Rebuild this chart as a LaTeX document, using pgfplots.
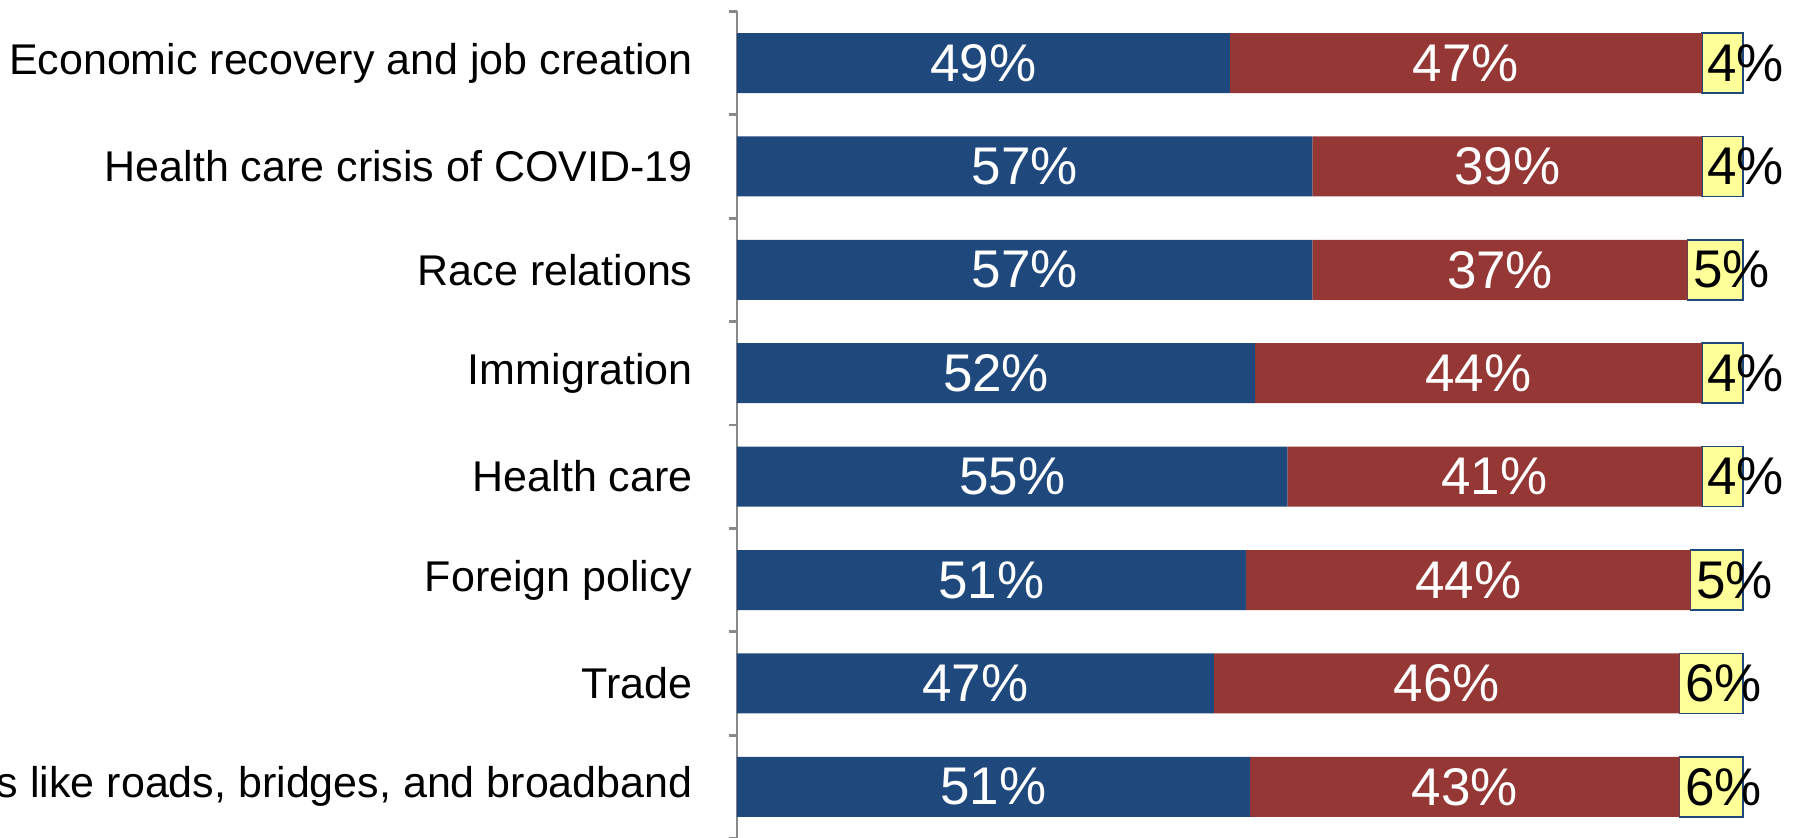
\documentclass[border=0pt]{standalone}
\usepackage{pgfplots}
\usepackage{pgfplotstable}
\pgfplotsset{compat=1.18}
\usepackage{fontspec}
\setmainfont{Liberation Sans}
\definecolor{cblue}{HTML}{1F497D}
\definecolor{cred}{HTML}{953735}
\definecolor{cyel}{HTML}{FFFF99}
\definecolor{cgray}{HTML}{898989}
\newcommand\valfont{\fontsize{26.5}{30}\selectfont}
\newcommand\catfont{\fontsize{21.5}{24}\selectfont}
\pgfplotstableread{
idx blue red yel lb lr ly
0 49.0 46.9 4.1 49 47 4
1 57.2 38.7 4.1 57 39 4
2 57.2 37.3 5.5 57 37 5
3 51.5 44.4 4.1 52 44 4
4 54.7 41.2 4.1 55 41 4
5 50.6 44.2 5.2 51 44 5
6 47.4 46.3 6.3 47 46 6
7 51.0 42.7 6.3 51 43 6
}\data
\begin{document}
\begin{tikzpicture}
\useasboundingbox (0,0) rectangle (900pt,418.5pt);
\clip (0,0) rectangle (900pt,418.5pt);
\pgfplotsset{base/.style={
  at={(368.5pt,-0.75pt)}, anchor=south west,
  scale only axis, width=503pt, height=413.6pt,
  xmin=0, xmax=100, ymin=-0.5, ymax=7.5, y dir=reverse,
  enlargelimits=false, clip=false},
  vlab/.style={draw=none,
  nodes near coords={\pgfmathprintnumber[fixed,precision=0,assume math mode=true]{\pgfplotspointmeta}\%}}}
\begin{axis}[base, xbar stacked, bar width=30pt,
  axis x line=none, axis y line=left,
  axis line style={-},
  every outer y axis line/.append style={draw=cgray, line width=1.4pt},
  every inner y axis line/.append style={draw=cgray, line width=1.4pt},
  ytick={0,...,7},
  yticklabels={Economic recovery and job creation, Health care crisis of COVID-19, Race relations, Immigration, Health care, Foreign policy, Trade, {Infrastructure improvements like roads, bridges, and broadband}},
  minor ytick={-0.5,0.5,...,7.5},
  major tick length=0pt, minor tick length=4pt, tick align=outside,
  major tick style={draw=none},
  minor tick style={draw=cgray, line width=1.4pt},
  yticklabel style={font=\catfont, anchor=east, inner sep=0pt, xshift=-22pt},
]
\addplot[fill=cblue, draw=none] table[x=blue, y=idx] {\data};
\addplot[fill=cred, draw=none] table[x=red, y=idx] {\data};
\addplot[fill=cyel, draw=cblue, line width=0.8pt] table[x=yel, y=idx] {\data};
\end{axis}
\begin{axis}[base, hide axis]
\addplot[vlab, point meta=\thisrow{lb},
  nodes near coords style={anchor=center, inner sep=0pt, text=white, font=\valfont}]
  table[x expr=\thisrow{blue}/2, y=idx] {\data};
\addplot[vlab, point meta=\thisrow{lr},
  nodes near coords style={anchor=center, inner sep=0pt, text=white, font=\valfont}]
  table[x expr=\thisrow{blue}+\thisrow{red}/2, y=idx] {\data};
\addplot[vlab, point meta=\thisrow{ly},
  nodes near coords style={anchor=west, inner sep=0pt, xshift=2.5pt, text=black, font=\valfont}]
  table[x expr=\thisrow{blue}+\thisrow{red}, y=idx] {\data};
\end{axis}
\end{tikzpicture}
\end{document}
